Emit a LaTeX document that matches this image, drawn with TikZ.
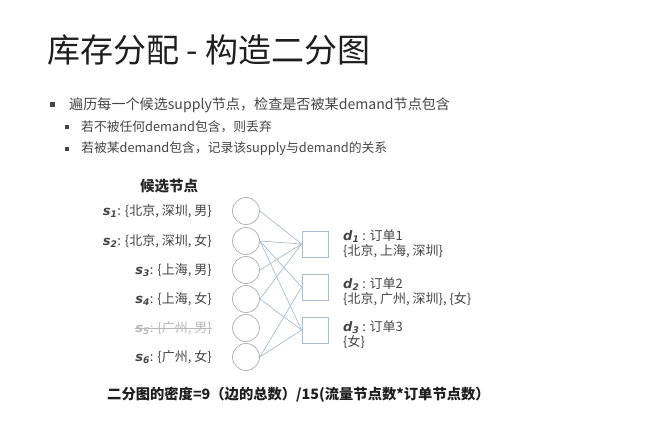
\documentclass[tikz,border=0pt]{standalone}
\usepackage{fontspec}
\setmainfont{Noto Sans CJK SC}
\newfontfamily\varfont{DejaVu Sans}
\usepackage{tikz}
\usetikzlibrary{positioning}
\definecolor{linkblue}{HTML}{A9BDCD}
\definecolor{ringgray}{HTML}{B4B4B4}
\definecolor{textgray}{HTML}{454545}
\newcommand{\nodevar}[2]{{\varfont\bfseries\itshape #1\textsubscript{#2}}}

\begin{document}
\begin{tikzpicture}[x=1pt, y=-1pt,
  supply/.style={circle, draw=ringgray, line width=0.8pt, minimum size=27pt, inner sep=0pt},
  demand/.style={rectangle, draw=linkblue, line width=0.8pt, minimum size=26pt, inner sep=0pt},
  link/.style={draw=linkblue, line width=0.7pt},
  bulletbox/.style={rectangle, fill=textgray, inner sep=0pt, minimum size=#1},
  slabel/.style={anchor=east, inner sep=0pt, text=textgray, font=\fontsize{13}{15}\selectfont},
  dlabel/.style={anchor=north west, inner sep=0pt, align=left, text=textgray, font=\fontsize{13}{15}\selectfont}]
  \useasboundingbox[fill=white] (0,0) rectangle (650,425);

  % title and bullets
  \node[anchor=west, inner sep=0pt, text=black!88, font=\fontsize{33}{36}\selectfont] (title) at (47,50) {库存分配 - 构造二分图};
  \node[bulletbox=5pt] (b1) at (52,105) {};
  \node[anchor=west, inner sep=0pt, text=textgray, font=\fontsize{14.1}{16}\selectfont] (t1) at (69,105) {遍历每一个候选supply节点，检查是否被某demand节点包含};
  \node[bulletbox=4pt] (b2) at (67,127) {};
  \node[anchor=west, inner sep=0pt, text=textgray, font=\fontsize{12.8}{15}\selectfont] (t2) at (81,127) {若不被任何demand包含，则丢弃};
  \node[bulletbox=4pt] (b3) at (67,149) {};
  \node[anchor=west, inner sep=0pt, text=textgray, font=\fontsize{12.8}{15}\selectfont] (t3) at (81,149) {若被某demand包含，记录该supply与demand的关系};

  % supply side
  \node[inner sep=0pt, text=black!85, font=\fontsize{14.5}{16}\bfseries] (head) at (169,186) {候选节点};
  \node[supply] (s1) at (246,211) {};
  \node[supply] (s2) at (246,241) {};
  \node[supply] (s3) at (246,270) {};
  \node[supply] (s4) at (246,299) {};
  \node[supply] (s5) at (246,328) {};
  \node[supply] (s6) at (246,357) {};
  \node[slabel] (l1) at (212,211) {\nodevar{s}{1}: \{北京, 深圳, 男\}};
  \node[slabel] (l2) at (212,241) {\nodevar{s}{2}: \{北京, 深圳, 女\}};
  \node[slabel] (l3) at (212,270) {\nodevar{s}{3}: \{上海, 男\}};
  \node[slabel] (l4) at (212,299) {\nodevar{s}{4}: \{上海, 女\}};
  \node[slabel, text=black!28] (l5) at (212,328) {\nodevar{s}{5}: \{广州, 男\}};
  \node[slabel] (l6) at (212,357) {\nodevar{s}{6}: \{广州, 女\}};
  \draw[black!28, line width=0.6pt] (l5.west) -- (l5.east);

  % demand side
  \node[demand] (d1) at (315,244) {};
  \node[demand] (d2) at (315,287) {};
  \node[demand] (d3) at (315,330) {};
  \node[dlabel] (m1) at (343,229) {\nodevar{d}{1} : 订单1\\\{北京, 上海, 深圳\}};
  \node[dlabel] (m2) at (343,277) {\nodevar{d}{2} : 订单2\\\{北京, 广州, 深圳\}, \{女\}};
  \node[dlabel] (m3) at (343,320) {\nodevar{d}{3} : 订单3\\\{女\}};

  % edges
  \foreach \s/\d in {1/1, 2/1, 2/2, 2/3, 3/1, 4/1, 4/3, 6/2, 6/3}
    \draw[link] (s\s.east) -- (d\d.west);

  \node[anchor=west, inner sep=0pt, text=black!88, font=\fontsize{14.3}{16}\bfseries] (density) at (107,395) {二分图的密度=9（边的总数）/15(流量节点数*订单节点数）};
\end{tikzpicture}
\end{document}
